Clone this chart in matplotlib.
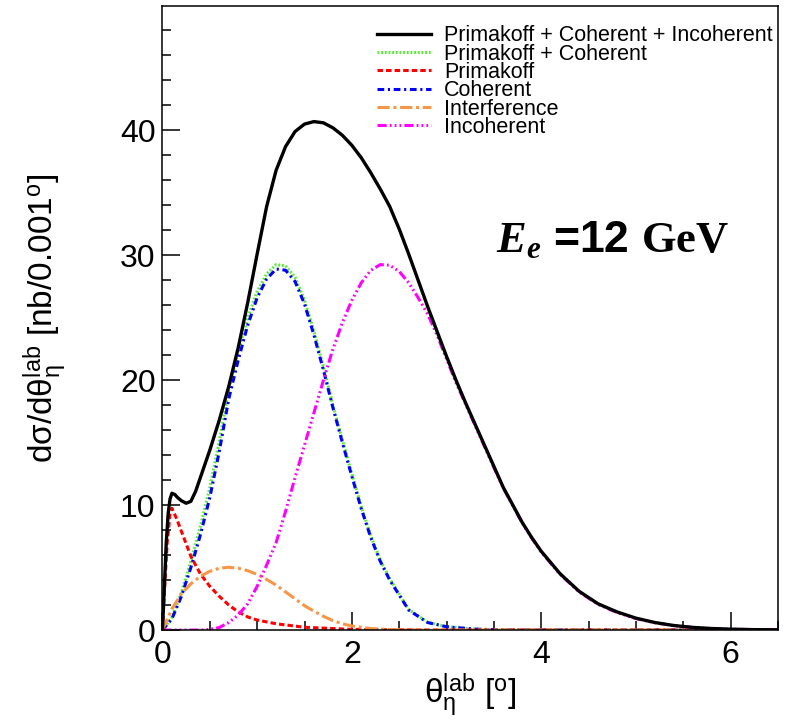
import numpy as np
import matplotlib
matplotlib.use('Agg')
import matplotlib.pyplot as plt

plt.rcParams['font.family'] = ['Liberation Sans', 'DejaVu Sans']
plt.rcParams['mathtext.fontset'] = 'custom'
plt.rcParams['mathtext.rm'] = 'Liberation Sans'
plt.rcParams['mathtext.it'] = 'Liberation Serif:italic:bold'
plt.rcParams['mathtext.bf'] = 'Liberation Serif:bold'

# ---- curves (theta in degrees, nb/0.001 deg) ----
x_total = [0, 0.02, 0.04, 0.06, 0.08, 0.1, 0.13, 0.16, 0.2, 0.25, 0.3, 0.35, 0.4,
           0.5, 0.6, 0.7, 0.8, 0.9, 1.0, 1.1, 1.2, 1.3, 1.4, 1.5, 1.6, 1.7, 1.8,
           1.9, 2.0, 2.1, 2.2, 2.3, 2.4, 2.5, 2.6, 2.7, 2.8, 2.9, 3.0, 3.1, 3.2,
           3.3, 3.4, 3.5, 3.6, 3.7, 3.8, 3.9, 4.0, 4.2, 4.4, 4.6, 4.8, 5.0, 5.2,
           5.4, 5.6, 5.8, 6.0, 6.25, 6.5]
y_total = [0, 3.5, 7.0, 9.3, 10.5, 10.95, 10.85, 10.6, 10.35, 10.15, 10.3, 11.1, 12.2,
           14.4, 16.8, 19.5, 22.6, 26.2, 30.1, 33.9, 36.8, 38.7, 39.9, 40.5, 40.7, 40.6, 40.2,
           39.6, 38.8, 37.8, 36.6, 35.3, 33.9, 32.1, 30.1, 28.0, 25.9, 23.9, 21.9, 20.0, 18.2,
           16.5, 14.8, 13.1, 11.4, 10.0, 8.6, 7.4, 6.3, 4.5, 3.1, 2.1, 1.45, 0.95, 0.6,
           0.36, 0.21, 0.12, 0.07, 0.03, 0.015]

x_coh = [0, 0.1, 0.2, 0.3, 0.4, 0.5, 0.6, 0.7, 0.8, 0.9, 1.0, 1.1, 1.2, 1.3, 1.4, 1.5,
         1.6, 1.7, 1.8, 1.9, 2.0, 2.1, 2.2, 2.3, 2.4, 2.6, 2.8, 3.0, 3.3, 3.6, 4.0, 6.5]
y_coh = [0, 0.9, 2.7, 5.0, 7.6, 10.6, 14.3, 18.5, 21.6, 24.4, 26.6, 28.1, 28.9, 28.8, 27.9, 26.1,
         23.6, 20.8, 17.8, 15.0, 12.3, 9.7, 7.4, 5.5, 4.0, 1.6, 0.6, 0.26, 0.07, 0.01, 0, 0]
y_prim_coh = [0, 1.0, 3.0, 5.5, 8.3, 11.4, 15.1, 19.3, 22.3, 25.0, 27.1, 28.5, 29.25, 29.15, 28.25, 26.4,
              23.9, 21.05, 18.0, 15.2, 12.5, 9.85, 7.55, 5.6, 4.1, 1.65, 0.62, 0.27, 0.07, 0.01, 0, 0]

x_prim = [0, 0.02, 0.05, 0.08, 0.1, 0.15, 0.2, 0.3, 0.4, 0.5, 0.6, 0.7, 0.8, 0.9, 1.0,
          1.2, 1.5, 2.0, 2.5, 3.0, 6.5]
y_prim = [0, 3.0, 7.0, 9.3, 9.75, 8.9, 7.9, 5.9, 4.5, 3.5, 2.7, 2.0, 1.45, 1.05, 0.8,
          0.5, 0.22, 0.05, 0.01, 0, 0]

x_int = [0, 0.1, 0.2, 0.3, 0.4, 0.5, 0.6, 0.7, 0.8, 0.9, 1.0, 1.1, 1.2, 1.3, 1.4, 1.5,
         1.6, 1.7, 1.8, 1.9, 2.0, 2.2, 2.4, 2.6, 6.5]
y_int = [0, 1.7, 2.9, 3.7, 4.3, 4.7, 4.95, 5.02, 4.95, 4.75, 4.45, 4.05, 3.6, 3.05, 2.5, 1.95,
         1.5, 1.1, 0.75, 0.5, 0.32, 0.12, 0.04, 0, 0]

x_incoh = [0, 0.4, 0.5, 0.6, 0.7, 0.8, 0.9, 1.0, 1.1, 1.2, 1.3, 1.4, 1.5, 1.6, 1.7, 1.8,
           1.9, 2.0, 2.1, 2.2, 2.3, 2.4, 2.5, 2.6, 2.7, 2.8, 2.9, 3.0, 3.1, 3.2, 3.3, 3.4,
           3.5, 3.6, 3.7, 3.8, 3.9, 4.0, 4.2, 4.4, 4.6, 4.8, 5.0, 5.2, 5.4, 5.6, 5.8, 6.0,
           6.25, 6.5]
y_incoh = [0, 0, 0.05, 0.2, 0.6, 1.2, 2.1, 3.5, 5.2, 7.0, 9.5, 12.2, 14.8, 17.4, 20.0, 22.5,
           24.6, 26.4, 27.8, 28.8, 29.25, 29.2, 28.7, 27.8, 26.6, 25.3, 23.6, 21.7, 19.8, 18.1, 16.4, 14.7,
           13.0, 11.35, 9.95, 8.55, 7.35, 6.25, 4.45, 3.05, 2.05, 1.4, 0.92, 0.58, 0.35, 0.2, 0.11, 0.065,
           0.03, 0.015]

labels = ['Primakoff + Coherent + Incoherent', 'Primakoff + Coherent', 'Primakoff',
          'Coherent', 'Interference', 'Incoherent']

fig = plt.figure(figsize=(7.86, 7.26), dpi=100)
ax = fig.add_axes([0.2067, 0.1322, 0.7831, 0.8595])

lw = 2.2
h_green, = ax.plot(x_coh, y_prim_coh, color='#55ee33', lw=lw, dashes=(0.6, 0.6))
h_blue, = ax.plot(x_coh, y_coh, color='#0000ff', lw=lw, dashes=(2.2, 1.2, 0.7, 1.2))
h_red, = ax.plot(x_prim, y_prim, color='#ff0000', lw=lw, dashes=(1.8, 1.0))
h_orange, = ax.plot(x_int, y_int, color='#f79646', lw=lw, dashes=(4.0, 1.2, 1.0, 1.2))
h_mag, = ax.plot(x_incoh, y_incoh, color='#ff00ff', lw=lw,
                 dashes=(3.0, 1.0, 0.6, 1.0, 0.6, 1.0, 0.6, 1.0))
h_black, = ax.plot(x_total, y_total, color='black', lw=2.4)

ax.set_xlim(0, 6.5)
ax.set_ylim(0, 49.95)
ax.set_xticks([0, 2, 4, 6])
ax.set_xticks(np.arange(0, 6.51, 0.5), minor=True)
ax.set_yticks([0, 10, 20, 30, 40])
ax.set_yticks(np.arange(0, 50, 2), minor=True)
ax.tick_params(which='major', direction='in', length=13, width=1.1, labelsize=23)
ax.tick_params(which='minor', direction='in', length=6.5, width=1.1)
ax.tick_params(axis='x', which='major', pad=7)
ax.tick_params(axis='y', which='major', pad=5)
for s in ax.spines.values():
    s.set_linewidth(1.1)

ax.set_xlabel(r'$\mathrm{\theta}_{\mathrm{\eta}}^{\mathrm{lab}}$ [$^{\mathrm{o}}$]', fontsize=24)
ax.xaxis.set_label_coords(0.5, -0.066)
ax.set_ylabel(r'd$\mathrm{\sigma}$/d$\mathrm{\theta}_{\mathrm{\eta}}^{\mathrm{lab}}$ [nb/0.001$^{\mathrm{o}}$]',
              fontsize=24)
ax.yaxis.set_label_coords(-0.152, 0.5)

ax.legend([h_black, h_green, h_red, h_blue, h_orange, h_mag], labels,
          loc='upper left', bbox_to_anchor=(0.349, 0.969), frameon=False,
          fontsize=15.5, labelspacing=-0.125, handlelength=2.5, handletextpad=0.6,
          borderpad=0, borderaxespad=0)

ax.text(0.542, 0.625, r'$E_e$ =12 $\mathbf{GeV}$', transform=ax.transAxes,
        fontsize=32, fontweight='bold', va='center', ha='left')

fig.savefig('out.png', dpi=100)
